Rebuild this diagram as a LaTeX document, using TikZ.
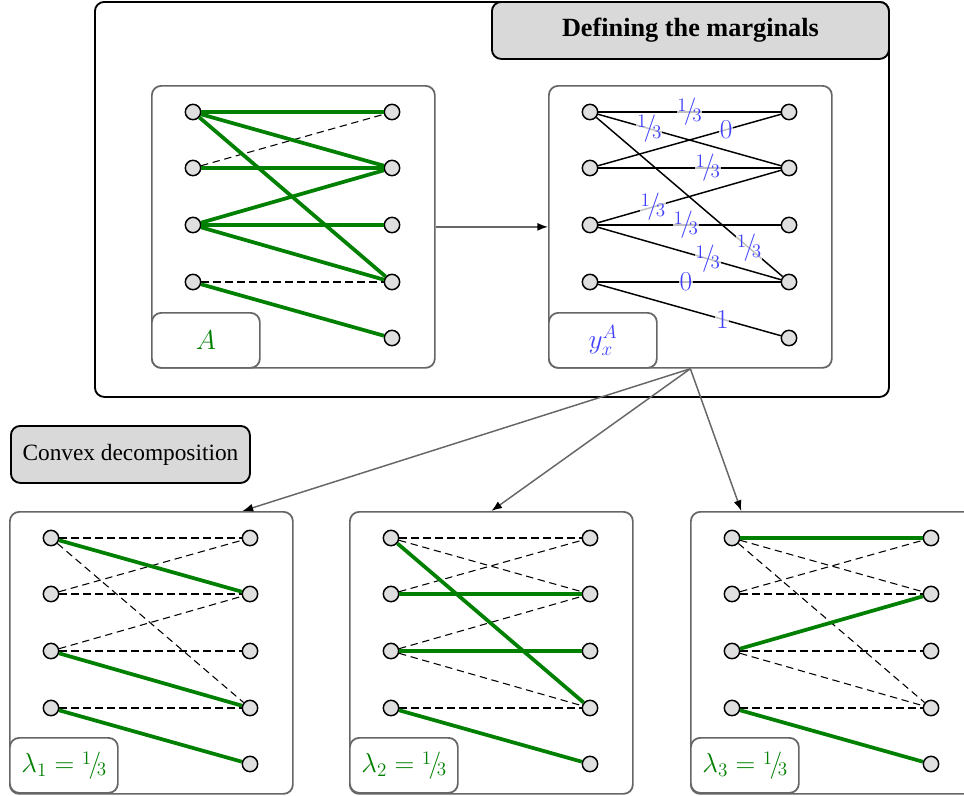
\RequirePackage{fix-cm}
\documentclass[tikz,border=0pt]{standalone}
\usepackage{fontspec}
\setmainfont{Liberation Serif}
\usetikzlibrary{arrows.meta,calc}
\definecolor{dgreen}{RGB}{0,128,0}
\definecolor{lblue}{RGB}{64,64,255}
\newcommand{\nf}[2]{\mbox{\raisebox{.6ex}{$\scriptstyle #1$}\kern-.1em$/$\kern-.15em\raisebox{-.25ex}{$\scriptstyle #2$}}}
\tikzset{
  vtx/.style={circle,draw=black,fill=gray!25,line width=1.1pt,minimum size=11.5pt,inner sep=0pt},
  frame/.style={draw=black!60,line width=1.3pt,rounded corners=7pt,fill=white,inner sep=0pt},
  lblbox/.style={frame,minimum width=81pt,minimum height=41.25pt,anchor=north west,font=\fontsize{20.5}{24}\selectfont},
  bigbox/.style={frame,minimum width=212.25pt,minimum height=211.5pt,anchor=north west},
  gr/.style={draw=dgreen,line width=2.8pt},
  ds/.style={draw=black,line width=0.8pt,dash pattern=on 5.5pt off 3.5pt},
  bl/.style={draw=black,line width=1.1pt},
  elab/.style={text=lblue,fill=white,fill opacity=0.75,text opacity=1,inner sep=0.5pt,font=\fontsize{20.5}{24}\selectfont},
  arr/.style={draw=black!60,line width=1.1pt,-{Latex[length=8pt,width=6pt,color=black]}},
  ttl/.style={draw=black,line width=1.4pt,rounded corners=7pt,fill=gray!30,inner sep=0pt}
}
\newcommand{\bip}[3]{%
  \foreach \i/\yy in {1/27,2/83,3/140,4/197}
    \node[vtx] (#1l\i) at (#2+42,#3+\yy) {};
  \foreach \i/\yy in {1/27,2/83,3/140,4/197,5/253}
    \node[vtx] (#1r\i) at (#2+241,#3+\yy) {};
}
\begin{document}
\begin{tikzpicture}[x=0.75pt,y=-0.75pt,font=\fontsize{17.5}{21}\selectfont]
\useasboundingbox (0,0) rectangle (964,796);
% outer box and title
\node[draw=black,line width=1.4pt,rounded corners=7pt,minimum width=595.5pt,minimum height=296.25pt,anchor=north west,inner sep=0pt] (outer) at (94,1) {};
\node[ttl,minimum width=297.75pt,minimum height=42.75pt,anchor=north east] (title) at (outer.north east) {\fontsize{19.7}{23}\selectfont\bfseries Defining the marginals};
% top boxes
\node[bigbox] (bA) at (151,85) {};
\node[bigbox] (bY) at (548,85) {};
\node[lblbox] (lA) at (151,312) {\textcolor{dgreen}{$A$}};
\node[lblbox] (lY) at (548,312) {\textcolor{lblue}{$y_x^A$}};
\draw[arr] (bA.east) -- (bY.west);
% convex decomposition
\node[ttl,minimum width=179.25pt,minimum height=42.75pt,anchor=north west] (conv) at (10,425) {Convex decomposition};
% bottom boxes
\node[bigbox] (b1) at (9,511) {};
\node[bigbox] (b2) at (349,511) {};
\node[bigbox] (b3) at (690,511) {};
\node[lblbox] (l1) at (9,737) {\textcolor{dgreen}{$\lambda_1=\nf{1}{3}$}};
\node[lblbox] (l2) at (349,737) {\textcolor{dgreen}{$\lambda_2=\nf{1}{3}$}};
\node[lblbox] (l3) at (690,737) {\textcolor{dgreen}{$\lambda_3=\nf{1}{3}$}};
\draw[arr] (bY.south) -- ($(b1.north west)!0.82!(b1.north east)$);
\draw[arr] (bY.south) -- ($(b2.north west)!0.5!(b2.north east)$);
\draw[arr] (bY.south) -- ($(b3.north west)!0.18!(b3.north east)$);
% graph A
\bip{a}{151}{85}
\draw[ds] (al2) -- (ar1);
\draw[ds] (al4) -- (ar4);
\draw[gr] (al1) -- (ar1);
\draw[gr] (al1) -- (ar2);
\draw[gr] (al1) -- (ar4);
\draw[gr] (al2) -- (ar2);
\draw[gr] (al3) -- (ar2);
\draw[gr] (al3) -- (ar3);
\draw[gr] (al3) -- (ar4);
\draw[gr] (al4) -- (ar5);
% graph y
\bip{y}{548}{85}
\draw[bl] (yl1) -- node[elab,pos=0.5]{$\nf{1}{3}$} (yr1);
\draw[bl] (yl1) -- node[elab,pos=0.28]{$\nf{1}{3}$} (yr2);
\draw[bl] (yl2) -- node[elab,pos=0.7]{$0$} (yr1);
\draw[bl] (yl2) -- node[elab,pos=0.6]{$\nf{1}{3}$} (yr2);
\draw[bl] (yl3) -- node[elab,pos=0.3]{$\nf{1}{3}$} (yr2);
\draw[bl] (yl3) -- node[elab,pos=0.48]{$\nf{1}{3}$} (yr3);
\draw[bl] (yl3) -- node[elab,pos=0.6]{$\nf{1}{3}$} (yr4);
\draw[bl] (yl1) -- node[elab,pos=0.82]{$\nf{1}{3}$} (yr4);
\draw[bl] (yl4) -- node[elab,pos=0.48]{$0$} (yr4);
\draw[bl] (yl4) -- node[elab,pos=0.68]{$1$} (yr5);
% graph 1
\bip{p}{9}{511}
\draw[ds] (pl1) -- (pr1);
\draw[ds] (pl1) -- (pr4);
\draw[ds] (pl2) -- (pr1);
\draw[ds] (pl2) -- (pr2);
\draw[ds] (pl3) -- (pr2);
\draw[ds] (pl3) -- (pr3);
\draw[ds] (pl4) -- (pr4);
\draw[gr] (pl1) -- (pr2);
\draw[gr] (pl3) -- (pr4);
\draw[gr] (pl4) -- (pr5);
% graph 2
\bip{q}{349}{511}
\draw[ds] (ql1) -- (qr1);
\draw[ds] (ql1) -- (qr2);
\draw[ds] (ql2) -- (qr1);
\draw[ds] (ql3) -- (qr2);
\draw[ds] (ql3) -- (qr4);
\draw[ds] (ql4) -- (qr4);
\draw[gr] (ql1) -- (qr4);
\draw[gr] (ql2) -- (qr2);
\draw[gr] (ql3) -- (qr3);
\draw[gr] (ql4) -- (qr5);
% graph 3
\bip{s}{690}{511}
\draw[ds] (sl1) -- (sr2);
\draw[ds] (sl1) -- (sr4);
\draw[ds] (sl2) -- (sr1);
\draw[ds] (sl2) -- (sr2);
\draw[ds] (sl3) -- (sr3);
\draw[ds] (sl3) -- (sr4);
\draw[ds] (sl4) -- (sr4);
\draw[gr] (sl1) -- (sr1);
\draw[gr] (sl3) -- (sr2);
\draw[gr] (sl4) -- (sr5);
\end{tikzpicture}
\end{document}
